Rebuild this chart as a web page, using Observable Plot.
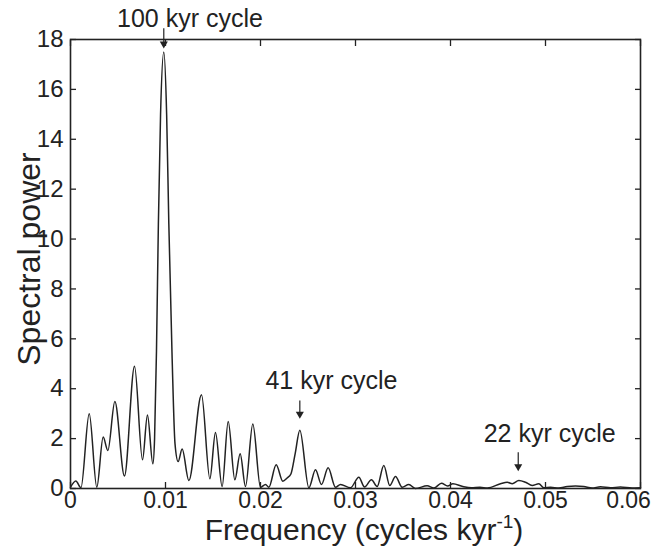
<!DOCTYPE html>
<html>
<head>
<meta charset="utf-8">
<script src="https://cdn.jsdelivr.net/npm/d3@7"></script>
<script src="https://cdn.jsdelivr.net/npm/@observablehq/plot@0.6"></script>
<style>
  html, body { margin: 0; padding: 0; background: white; }
</style>
</head>
<body>
<div id="chart"></div>
<script>
// Frequency (cycles per kyr) and spectral power
const freq = [
  0, 0.00056, 0.0011, 0.00197, 0.00277, 0.00344, 0.00393, 0.00467, 0.00568, 0.00674,
  0.00758, 0.0081, 0.00867, 0.00885, 0.00905, 0.00925, 0.00948, 0.00982, 0.01012, 0.01035,
  0.0107, 0.0110, 0.01133, 0.01175, 0.01246, 0.01379, 0.01467, 0.01526, 0.01596, 0.0166,
  0.0173, 0.01786, 0.01842, 0.01919, 0.0200, 0.02053, 0.02088, 0.02165, 0.02235, 0.0228,
  0.0232, 0.02365, 0.02414, 0.02509, 0.02579, 0.02642, 0.02712, 0.02789, 0.02842, 0.02947,
  0.03035, 0.03095, 0.03168, 0.03228, 0.03298, 0.03361, 0.03421, 0.03491, 0.03561, 0.03632,
  0.03754, 0.03825, 0.03905, 0.0397, 0.04025, 0.0413, 0.0422, 0.0431, 0.0439, 0.04526,
  0.04597, 0.0465, 0.04719, 0.04789, 0.0486, 0.0493, 0.04982, 0.05053, 0.0514, 0.05228,
  0.05316, 0.05403, 0.05491, 0.05579, 0.05684, 0.05789, 0.05912, 0.0600
];
const power = [
  0.05, 0.3, 0.03, 3.0, 0.05, 2.06, 1.52, 3.49, 0.5, 4.9,
  1.15, 2.95, 0.99, 2.0, 5.5, 10.6, 15.0, 17.5, 15.0, 10.6,
  5.2, 1.8, 1.08, 1.58, 0.32, 3.76, 0.39, 2.25, 0.08, 2.69,
  0.35, 1.39, 0.08, 2.59, 0.05, 0.16, 0.05, 0.95, 0.29, 0.42,
  0.58, 1.4, 2.34, 0.03, 0.75, 0.16, 0.83, 0.05, 0.16, 0.03,
  0.45, 0.06, 0.35, 0.08, 0.92, 0.12, 0.48, 0.05, 0.16, 0.0,
  0.11, 0.02, 0.21, 0.1, 0.19, 0.08, 0.03, 0.05, 0.02, 0.19,
  0.25, 0.19, 0.32, 0.25, 0.12, 0.19, 0.03, 0.05, 0.02, 0.08,
  0.1, 0.08, 0.02, 0.07, 0.03, 0.06, 0.02, 0.03
];

const xTicks = [0, 0.01, 0.02, 0.03, 0.04, 0.05, 0.06];
const xTickLabels = ["0", "0.01", "0.02", "0.03", "0.04", "0.05", "0.06"];
const yTicks = [0, 2, 4, 6, 8, 10, 12, 14, 16, 18];
const yTickLabels = ["0", "2", "4", "6", "8", "10", "12", "14", "16", "18"];

// Annotations: label start position and arrow (data units)
const annotLabels = ["100 kyr cycle", "41 kyr cycle", "22 kyr cycle"];
const annotLabelFreq = [0.0049, 0.02052, 0.04349];
const annotLabelPower = [18.52, 3.97, 1.86];
const arrowFreq = [0.00982, 0.02414, 0.04713];
const arrowTail = [18.45, 3.53, 1.45];
const arrowTip = [17.75, 2.9, 0.8];

const xLabelMain = "Frequency (cycles kyr";
const xLabelSup = "-1";
const xLabelEnd = ")";
const yLabel = "Spectral power";

const series = freq.map((f, i) => ({f, p: power[i]}));
const annots = annotLabels.map((label, i) => ({
  label, lf: annotLabelFreq[i], lp: annotLabelPower[i],
  af: arrowFreq[i], at: arrowTail[i], ah: arrowTip[i]
}));

const font = "'Liberation Sans', Arial, Helvetica, sans-serif";
const ink = "#222";

const chart = Plot.plot({
  width: 654,
  height: 547,
  marginLeft: 70,
  marginRight: 14,
  marginTop: 39,
  marginBottom: 59,
  style: {fontFamily: font, background: "white", color: ink, overflow: "visible"},
  x: {domain: [0, 0.06]},
  y: {domain: [0, 18]},
  marks: [
    Plot.axisX({anchor: "bottom", ticks: xTicks, tickSize: -6, tickPadding: 9,
      tickFormat: (d, i) => xTickLabels[i], fontSize: 23, label: null, stroke: ink, strokeWidth: 1.3}),
    Plot.axisX({anchor: "top", ticks: xTicks, tickSize: -6, tickFormat: () => "", label: null, stroke: ink, strokeWidth: 1.3}),
    Plot.axisY({anchor: "left", ticks: yTicks, tickSize: -6, tickPadding: 13,
      tickFormat: (d, i) => yTickLabels[i], fontSize: 24, label: null, stroke: ink, strokeWidth: 1.3}),
    Plot.axisY({anchor: "right", ticks: yTicks, tickSize: -6, tickFormat: () => "", label: null, stroke: ink, strokeWidth: 1.3}),
    Plot.line(series, {x: "f", y: "p", curve: "monotone-x", stroke: ink, strokeWidth: 1.5}),
    Plot.frame({stroke: ink, strokeWidth: 1.6}),
    Plot.link(annots, {x1: "af", x2: "af", y1: "at", y2: "ah", stroke: ink, strokeWidth: 1.2}),
    Plot.dot(annots, {x: "af", y: "ah", symbol: "triangle", rotate: 180, r: 3, fill: ink, stroke: "none", dy: -2}),
    Plot.text(annots, {x: "lf", y: "lp", text: "label", textAnchor: "start", lineAnchor: "bottom",
      fontSize: 25, fill: ink})
  ]
});

const svg = d3.select(chart);

// keep the last x tick label inside the picture, as in the reference
const xTickTexts = svg.selectAll("g[aria-label='x-axis tick label'] text").nodes();
const bottomTexts = xTickTexts.filter(n => n.textContent !== "");
if (bottomTexts.length) d3.select(bottomTexts[bottomTexts.length - 1]).attr("dx", -12);

const xl = svg.append("text")
  .attr("x", 364)
  .attr("y", 540)
  .attr("text-anchor", "middle")
  .attr("fill", ink)
  .style("font-family", font)
  .style("font-size", "30px");
xl.append("tspan").text(xLabelMain);
xl.append("tspan").attr("dy", -12).style("font-size", "19px").text(xLabelSup);
xl.append("tspan").attr("dy", 12).text(xLabelEnd);

svg.append("text")
  .attr("transform", `translate(40, 259) rotate(-90)`)
  .attr("text-anchor", "middle")
  .attr("fill", ink)
  .style("font-family", font)
  .style("font-size", "32px")
  .text(yLabel);

document.getElementById("chart").appendChild(chart);
</script>
</body>
</html>
